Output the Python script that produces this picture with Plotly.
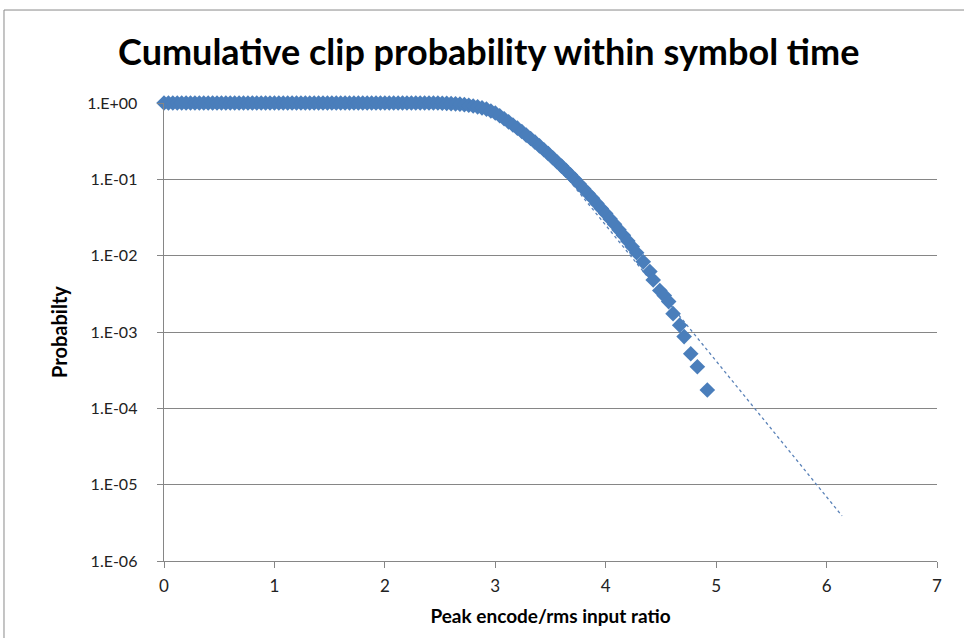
import plotly.graph_objects as go

# ---- data ----
ratio = [0.00, 0.04, 0.08, 0.12, 0.16, 0.20, 0.24, 0.28, 0.32, 0.36,
         0.40, 0.44, 0.48, 0.52, 0.56, 0.60, 0.64, 0.68, 0.72, 0.76,
         0.80, 0.84, 0.88, 0.92, 0.96, 1.00, 1.04, 1.08, 1.12, 1.16,
         1.20, 1.24, 1.28, 1.32, 1.36, 1.40, 1.44, 1.48, 1.52, 1.56,
         1.60, 1.64, 1.68, 1.72, 1.76, 1.80, 1.84, 1.88, 1.92, 1.96,
         2.00, 2.04, 2.08, 2.12, 2.16, 2.20, 2.24, 2.28, 2.32, 2.36,
         2.40, 2.44, 2.48, 2.52, 2.56, 2.60, 2.64, 2.68, 2.72, 2.76,
         2.80, 2.84, 2.88, 2.92, 2.96, 3.00, 3.04, 3.08, 3.12, 3.16,
         3.20, 3.24, 3.28, 3.32, 3.36, 3.40, 3.44, 3.48, 3.52, 3.56,
         3.60, 3.64, 3.68, 3.72, 3.76, 3.80, 3.84, 3.88, 3.92, 3.96,
         4.00, 4.04, 4.08, 4.12, 4.16, 4.20, 4.24, 4.28,
         4.34, 4.40, 4.43, 4.49, 4.53, 4.57, 4.61, 4.67, 4.71, 4.77,
         4.83, 4.92]

probability = [1.0, 1.0, 1.0, 1.0, 1.0, 1.0, 1.0, 1.0, 1.0, 1.0,
               1.0, 1.0, 1.0, 1.0, 1.0, 1.0, 1.0, 1.0, 1.0, 1.0,
               1.0, 1.0, 1.0, 1.0, 1.0, 1.0, 1.0, 1.0, 1.0, 1.0,
               1.0, 1.0, 1.0, 1.0, 1.0, 1.0, 1.0, 1.0, 1.0, 1.0,
               1.0, 1.0, 1.0, 1.0, 1.0, 1.0, 1.0, 1.0, 1.0, 1.0,
               1.0, 1.0, 1.0, 1.0, 1.0, 1.0, 1.0, 1.0, 1.0, 1.0,
               1.0, 1.0, 0.998, 0.993, 0.989, 0.982, 0.975, 0.966, 0.951, 0.933,
               0.912, 0.891, 0.863, 0.832, 0.787, 0.741, 0.681, 0.622, 0.566, 0.516,
               0.468, 0.423, 0.380, 0.343, 0.307, 0.274, 0.244, 0.217, 0.192, 0.169,
               0.149, 0.131, 0.115, 0.100, 0.0869, 0.0754, 0.0653, 0.0564, 0.0484, 0.0415,
               0.0356, 0.0303, 0.0258, 0.0218, 0.0185, 0.0156, 0.0131, 0.0109,
               0.0083, 0.0062, 0.0048, 0.0035, 0.0030, 0.0025, 0.00174, 0.00123, 0.00087, 0.00052,
               0.00035, 0.000174]

trend_ratio = [3.60, 4.00, 4.50, 5.00, 5.50, 6.14]
trend_prob = [0.129, 0.0251, 0.0032, 0.00042, 0.000054, 0.0000039]

x_ticks = [0, 1, 2, 3, 4, 5, 6, 7]
y_tickvals = [1, 1e-1, 1e-2, 1e-3, 1e-4, 1e-5, 1e-6]
y_ticktext = ["1.E+00", "1.E-01", "1.E-02", "1.E-03", "1.E-04", "1.E-05", "1.E-06"]

FONT = "Lato"
MARK = "#4A7EBB"
AXC = "#868686"
PAD = "\u00a0" * 4

fig = go.Figure()
fig.add_trace(go.Scatter(
    x=trend_ratio, y=trend_prob, mode="lines",
    line=dict(color="#5A82B8", width=1.3, dash="3px,3px"),
    hoverinfo="skip", showlegend=False, cliponaxis=False))
fig.add_trace(go.Scatter(
    x=ratio, y=probability, mode="markers",
    marker=dict(symbol="diamond", size=12, color=MARK, line=dict(width=0)),
    showlegend=False, cliponaxis=False))

fig.update_layout(
    width=964, height=638,
    margin=dict(l=164, r=27, t=103, b=77),
    paper_bgcolor="white", plot_bgcolor="white",
    font=dict(family=FONT, color="#000000"),
    title=dict(text="<b>Cumulative clip probability within symbol time</b>",
               x=0.507, xanchor="center", xref="container",
               y=1 - 52 / 638, yanchor="middle", yref="container",
               font=dict(family=FONT, size=36, color="#000000")),
    xaxis=dict(range=[0, 7], tickvals=x_ticks, ticks="outside", ticklen=6,
               tickcolor=AXC, showline=True, linecolor=AXC, linewidth=1,
               showgrid=False, zeroline=False, ticklabelstandoff=4,
               tickfont=dict(family=FONT, size=17, color="#222222"),
               title=dict(text="<b>Peak encode/rms input ratio</b>", standoff=14,
                          font=dict(family=FONT, size=19, color="#000000"))),
    yaxis=dict(type="log", range=[-6, 0], tickvals=y_tickvals,
               ticktext=[t + PAD for t in y_ticktext],
               ticks="outside", ticklen=6, tickcolor=AXC,
               showline=True, linecolor=AXC, linewidth=1,
               showgrid=True, gridcolor=AXC, gridwidth=1, zeroline=False,
               tickfont=dict(family=FONT, size=16, color="#222222"),
               title=dict(text="<b>Probabilty</b>", standoff=14,
                          font=dict(family=FONT, size=20, color="#000000"))),
    shapes=[dict(type="path", xref="paper", yref="paper",
                 path="M -0.207 -0.2 L -0.207 1.203 L 1.04 1.203",
                 line=dict(color="#8a8a8a", width=1))],
)

fig.write_html("out.html")
